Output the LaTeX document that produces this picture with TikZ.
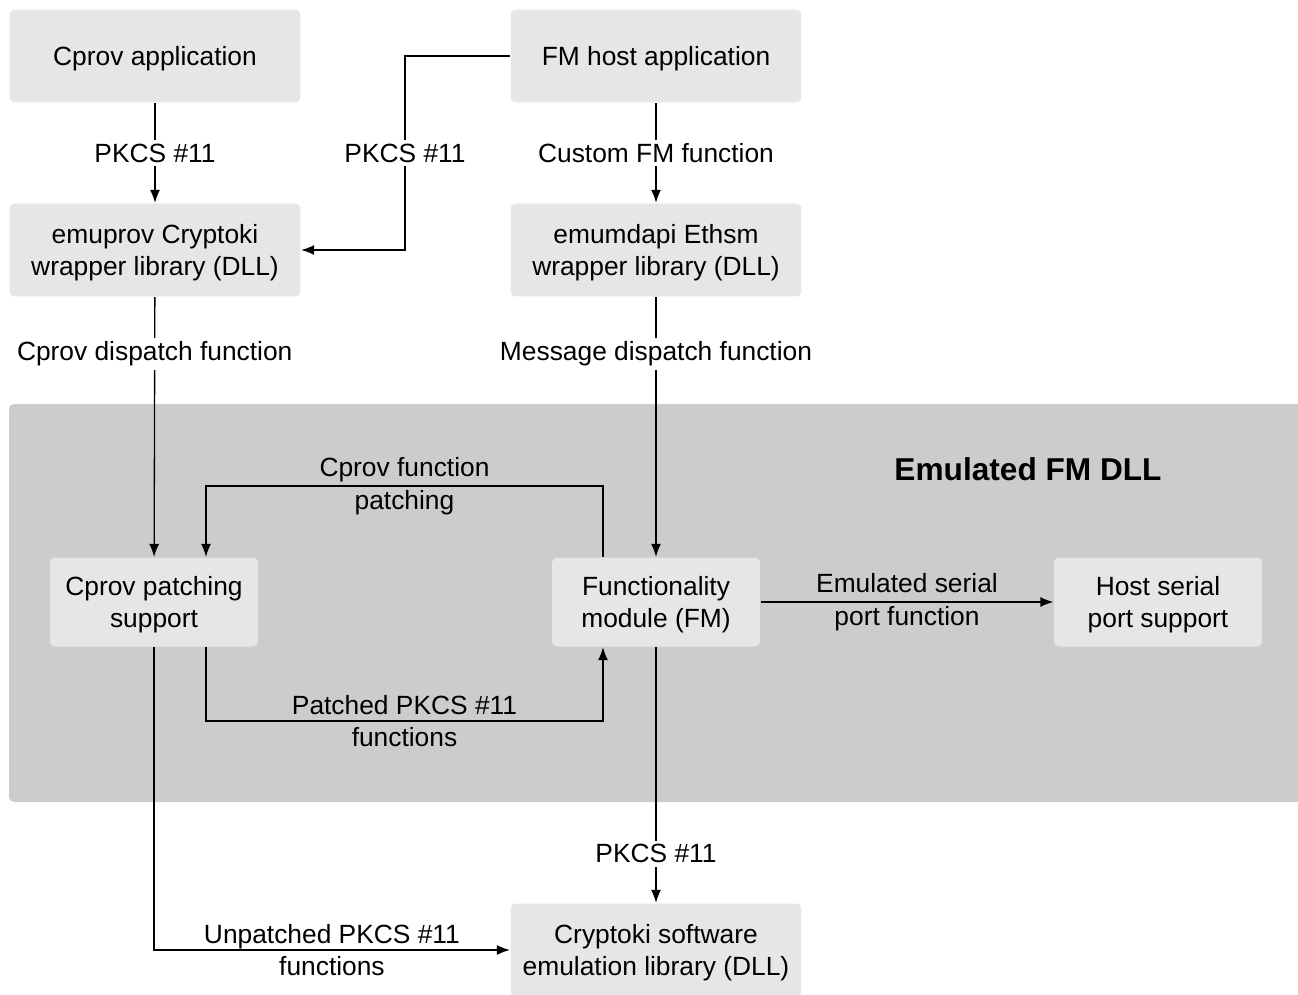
\documentclass[tikz,border=0pt]{standalone}
\usepackage{fontspec}
\setmainfont{Liberation Sans}
\usetikzlibrary{arrows.meta}
\definecolor{boxgray}{HTML}{E6E6E6}
\definecolor{regiongray}{HTML}{CCCCCC}

\begin{document}
\begin{tikzpicture}[x=0.02cm, y=-0.02cm, >={Latex[length=2.6mm,width=2mm]},
  line width=0.75pt,
  txt/.style={font=\fontsize{15}{18.7}\selectfont, align=center, inner sep=1pt},
  bigbox/.style={txt, text depth=0pt, fill=boxgray, rounded corners=0.1cm, minimum width=5.82cm, minimum height=1.86cm},
  smallbox/.style={txt, text depth=0pt, fill=boxgray, rounded corners=0.1cm, minimum width=4.16cm, minimum height=1.78cm},
  whitelbl/.style={txt, fill=white, inner sep=2pt}]

\clip (0,0) rectangle (1298,994);

% emulated FM DLL region
\fill[regiongray, rounded corners=0.1cm] (9,404) rectangle (1320,802);
\node[font=\fontsize{18}{22}\selectfont\bfseries] (title) at (1028,469) {Emulated FM DLL};

\node[bigbox] (capp) at (155,56) {Cprov application};
\node[bigbox] (fmhost) at (656,56) {FM host application};
\node[bigbox] (emuprov) at (155,250) {emuprov Cryptoki\\wrapper library (DLL)};
\node[bigbox] (emumdapi) at (656,250) {emumdapi Ethsm\\wrapper library (DLL)};
\node[smallbox] (patch) at (154,602) {Cprov patching\\support};
\node[smallbox] (fm) at (656,602) {Functionality\\module (FM)};
\node[smallbox] (serial) at (1158,602) {Host serial\\port support};
\node[bigbox] (swlib) at (656,950) {Cryptoki software\\emulation library (DLL)};

\draw[->] (capp) -- node[whitelbl] {PKCS \#11} (emuprov);
\draw[->] (fmhost.west) -- (405,56) -- node[whitelbl] {PKCS \#11} (405,250) -- (emuprov.east);
\draw[->] (fmhost) -- node[whitelbl] {Custom FM function} (emumdapi);
\draw[->] (emuprov) -- node[whitelbl, pos=0.219] {Cprov dispatch function} (patch);
\draw[->] (emumdapi) -- node[whitelbl, pos=0.219] {Message dispatch function} (fm);
\draw[->] (fm.north -| 603,0) -- (603,486) -- node[txt] {Cprov function\\patching} (206,486) -- (patch.north -| 206,0);
\draw[->] (patch.south -| 206,0) -- (206,721) -- node[txt] {Patched PKCS \#11\\functions} (603,721) -- (fm.south -| 603,0);
\draw[->] (fm) -- node[txt] {Emulated serial\\port function} (serial);
\draw[->] (fm) -- node[whitelbl, pos=0.808] {PKCS \#11} (swlib);
\draw[->] (patch.south) -- (154,950) -- node[txt] {Unpatched PKCS \#11\\functions} (swlib.west);
\end{tikzpicture}
\end{document}
